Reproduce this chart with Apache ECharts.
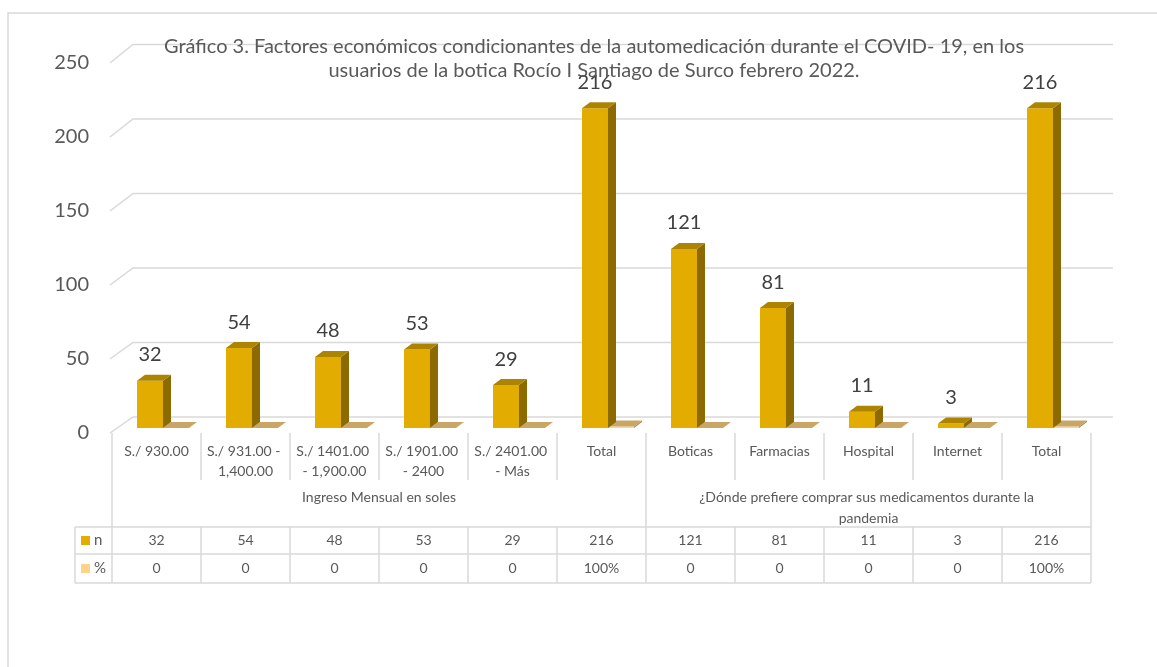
<!DOCTYPE html>
<html><head><meta charset="utf-8">
<script src="https://cdn.jsdelivr.net/npm/echarts@6/dist/echarts.min.js"></script>
<style>html,body{margin:0;padding:0;background:#fff}#c{width:1157px;height:667px}</style>
</head><body><div id="c"></div>
<script>
const titleText = 'Gráfico 3. Factores económicos condicionantes de la automedicación durante el COVID- 19, en los\nusuarios de la botica Rocío I Santiago de Surco febrero 2022.';
const categories = ['S./ 930.00','S./ 931.00 - 1,400.00','S./ 1401.00 - 1,900.00','S./ 1901.00 - 2400','S./ 2401.00 - Más','Total','Boticas','Farmacias','Hospital','Internet','Total'];
const seriesNames = ['n','%'];
const nValues = [32,54,48,53,29,216,121,81,11,3,216];
const pctValues = [0,0,0,0,0,1,0,0,0,0,1];
const pctLabels = ['0','0','0','0','0','100%','0','0','0','0','100%'];
const groupNames = ['Ingreso Mensual en soles','¿Dónde prefiere comprar sus medicamentos durante la pandemia'];
const groupRanges = [[0,5],[6,10]];
const yTicks = [0,50,100,150,200,250];

const FONT = 'Lato';
const GRID = '#D9D9D9';
const TXT = '#595959';
const DX = 8, DY = -6, LIFT = 5;

function barRender(kind){
  return function(params, api){
    const i = api.value(0), v = api.value(1);
    const base = api.coord([i,0]), top = api.coord([i,v]);
    const bw = api.size([1,0])[0];
    const w = bw*0.292;
    const x0 = kind === 0 ? base[0] - bw*0.219 : base[0] + bw*0.073;
    const y0 = base[1]-LIFT, y1 = top[1]-LIFT;
    const front = kind === 0 ? '#E2AC00' : '#FFD38A';
    const side = kind === 0 ? '#8C6A00' : '#A88A55';
    const topc = kind === 0 ? '#AD8400' : '#C9A566';
    const ch = [];
    if (y0 - y1 > 0.5) {
      ch.push({type:'rect', shape:{x:x0,y:y1,width:w,height:y0-y1}, style:{fill:front}});
      ch.push({type:'polygon', shape:{points:[[x0+w,y1],[x0+w+DX,y1+DY],[x0+w+DX,y0+DY],[x0+w,y0]]}, style:{fill:side}});
    }
    ch.push({type:'polygon', shape:{points:[[x0,y1],[x0+DX,y1+DY],[x0+w+DX,y1+DY],[x0+w,y1]]}, style:{fill:topc}});
    if (kind === 0) {
      ch.push({type:'text', style:{text:String(v), x:x0+w/2, y:y1-26, align:'center', verticalAlign:'middle', fill:'#404040', font:'20px '+FONT}});
    }
    return {type:'group', children:ch};
  };
}

function gridRender(params, api){
  const v = api.value(0);
  const y = api.coord([0,v])[1];
  const cs = params.coordSys;
  const off = -16 - 2.5*(v/250);
  return {type:'polyline', shape:{points:[[cs.x-2,y],[cs.x+21,y+off],[cs.x+cs.width+22,y+off]]}, style:{stroke:GRID, lineWidth:1.5, fill:null}, z2:0};
}

function tableRender(params, api){
  const cs = params.coordSys;
  const bw = api.size([1,0])[0];
  const yb = cs.y + cs.height;
  const catEnd = yb + 47, rowTop = yb + 94, rowMid = yb + 121, rowBot = yb + 150;
  const leftX = cs.x - 37, rightX = cs.x + cs.width;
  const ch = [];
  const line = (x1,y1,x2,y2) => ch.push({type:'line', shape:{x1,y1,x2,y2}, style:{stroke:GRID, lineWidth:1.5}});
  const bounds = new Set();
  groupRanges.forEach(r => { bounds.add(r[0]); bounds.add(r[1]+1); });
  for (let k = 0; k <= categories.length; k++) {
    const x = cs.x + k*bw;
    if (bounds.has(k)) line(x, yb, x, rowBot);
    else { line(x, yb, x, catEnd); line(x, rowTop, x, rowBot); }
  }
  line(leftX, rowTop, leftX, rowBot);
  line(leftX, rowTop, rightX, rowTop);
  line(leftX, rowMid, rightX, rowMid);
  line(leftX, rowBot, rightX, rowBot);
  groupRanges.forEach((r, g) => {
    const xa = cs.x + r[0]*bw, xb = cs.x + (r[1]+1)*bw;
    ch.push({type:'text', style:{text:groupNames[g], x:(xa+xb)/2, y:yb+54, width:375, overflow:'break', lineHeight:21, align:'center', verticalAlign:'top', fill:TXT, font:'14px '+FONT}});
  });
  for (let i = 0; i < categories.length; i++) {
    const c = api.coord([i,0])[0];
    ch.push({type:'text', style:{text:String(nValues[i]), x:c, y:(rowTop+rowMid)/2, align:'center', verticalAlign:'middle', fill:TXT, font:'14px '+FONT}});
    ch.push({type:'text', style:{text:pctLabels[i], x:c, y:(rowMid+rowBot)/2, align:'center', verticalAlign:'middle', fill:TXT, font:'14px '+FONT}});
  }
  const keyCols = ['#E2AC00','#FFD38A'];
  [0,1].forEach(s => {
    const cy = s === 0 ? (rowTop+rowMid)/2 : (rowMid+rowBot)/2;
    ch.push({type:'rect', shape:{x:leftX+6, y:cy-4.5, width:9, height:9}, style:{fill:keyCols[s]}});
    ch.push({type:'text', style:{text:seriesNames[s], x:leftX+19, y:cy, align:'left', verticalAlign:'middle', fill:TXT, font:'15px '+FONT}});
  });
  return {type:'group', children:ch};
}

const chart = echarts.init(document.getElementById('c'), null, {renderer:'canvas'});
chart.setOption({
  backgroundColor:'#fff',
  animation:false,
  title:{text:titleText, left:589, top:30, textAlign:'center', textStyle:{fontFamily:FONT, fontSize:20, fontWeight:'normal', color:TXT, lineHeight:24}},
  graphic:[{type:'rect', shape:{x:8,y:13,width:1200,height:700}, style:{fill:null, stroke:GRID, lineWidth:1.5}, z:-1}],
  grid:{left:112, right:66, top:63, bottom:234},
  xAxis:{type:'category', data:categories, axisLine:{show:false}, axisTick:{show:false},
    axisLabel:{interval:0, margin:8, width:80, overflow:'break', lineHeight:20, color:TXT, fontFamily:FONT, fontSize:14}},
  yAxis:{type:'value', min:0, max:250, interval:50, axisLine:{show:false}, axisTick:{show:false}, splitLine:{show:false},
    axisLabel:{margin:23, color:TXT, fontFamily:FONT, fontSize:20}},
  series:[
    {type:'custom', name:'grid', renderItem:gridRender, data:yTicks.map(v=>[v]), encode:{y:0}, z:1, silent:true},
    {type:'custom', name:seriesNames[1], renderItem:barRender(1), data:pctValues.map((v,i)=>[i,v]), encode:{x:0,y:1}, z:2},
    {type:'custom', name:seriesNames[0], renderItem:barRender(0), data:nValues.map((v,i)=>[i,v]), encode:{x:0,y:1}, z:3},
    {type:'custom', name:'table', renderItem:tableRender, data:[[0,0]], encode:{x:0,y:1}, z:4, silent:true}
  ]
});
</script></body></html>
